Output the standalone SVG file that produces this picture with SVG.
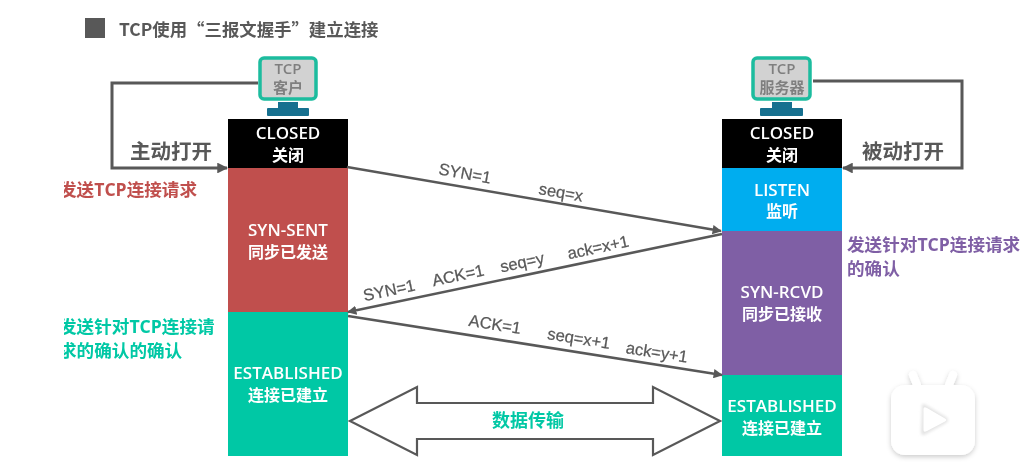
<svg xmlns="http://www.w3.org/2000/svg" width="1031" height="470" viewBox="0 0 1031 470">
<style>
text{font-family:"Open Sans","Noto Sans CJK SC",sans-serif;text-anchor:middle;dominant-baseline:central}
.w{fill:#fff;font-weight:600;font-size:17px}
.wc{fill:#fff;font-weight:600;font-size:16px}
.lab{font-family:"Liberation Sans","Noto Sans CJK SC",sans-serif;fill:#595959;font-size:16.5px;stroke:#595959;stroke-width:.25}
.open{fill:#595959;font-size:20.5px;font-weight:700}
.side{font-size:17.6px;font-weight:700;text-anchor:start}
.mon{fill:#7f7f7f;font-size:15px;font-weight:600}
.line{fill:none;stroke:#595959;stroke-width:3}
.thin{fill:none;stroke:#595959;stroke-width:2.6}
.screen{fill:#d2d2d2;stroke:#1cbc9e;stroke-width:3.5}
.stand{fill:#13708f}
</style>
<defs>
<marker id="a" viewBox="0 0 10 10" refX="9" refY="5" markerWidth="3.6" markerHeight="3.6" orient="auto"><path d="M0 0L10 5L0 10z" fill="#595959"/></marker>
<filter id="soft" x="-5%" y="-5%" width="110%" height="110%"><feGaussianBlur stdDeviation="0.45"/></filter>
<filter id="sh" x="-20%" y="-20%" width="140%" height="140%"><feDropShadow dx="0" dy="2" stdDeviation="2.5" flood-color="#000" flood-opacity=".2"/></filter>
<filter id="sh2" x="-40%" y="-40%" width="180%" height="180%"><feGaussianBlur stdDeviation="1.6"/></filter>
<clipPath id="leftclip"><rect x="64" y="0" width="300" height="470"/></clipPath>
</defs>
<rect width="1031" height="470" fill="#fff"/>
<g filter="url(#soft)">
<g id="title">
<rect x="85" y="18" width="20" height="20" fill="#595959"/>
<text x="119" y="28" style="text-anchor:start;font-size:17.4px;font-weight:700;fill:#595959;font-family:'Noto Sans CJK SC',sans-serif">TCP使用“三报文握手”建立连接</text>
</g>
<g id="client">
<rect x="260" y="58" width="56" height="41" rx="4" class="screen"/>
<rect x="278" y="102" width="20" height="7" class="stand"/>
<rect x="267" y="108" width="42" height="8" rx="1" class="stand"/>
<text x="288" y="68" class="mon">TCP</text>
<text x="288" y="87" class="mon">客户</text>
</g>
<g id="server">
<rect x="753" y="58" width="57" height="41" rx="4" class="screen"/>
<rect x="772" y="102" width="20" height="7" class="stand"/>
<rect x="760" y="108" width="43" height="8" rx="1" class="stand"/>
<text x="782" y="68" class="mon">TCP</text>
<text x="782" y="87" class="mon">服务器</text>
</g>
<g id="client-closed">
<rect x="228" y="119" width="120" height="49" fill="#000"/>
<text x="288" y="132" class="w">CLOSED</text>
<text x="288" y="155" class="wc">关闭</text>
</g>
<g id="client-syn-sent">
<rect x="228" y="168" width="120" height="144" fill="#c0504d"/>
<text x="288" y="229" class="w">SYN-SENT</text>
<text x="288" y="252" class="wc">同步已发送</text>
</g>
<g id="client-established">
<rect x="228" y="312" width="120" height="144" fill="#06c8a5"/>
<text x="288" y="372" class="w">ESTABLISHED</text>
<text x="288" y="395" class="wc">连接已建立</text>
</g>
<g id="server-closed">
<rect x="722" y="119" width="120" height="49" fill="#000"/>
<text x="782" y="132" class="w">CLOSED</text>
<text x="782" y="155" class="wc">关闭</text>
</g>
<g id="server-listen">
<rect x="722" y="168" width="120" height="63" fill="#00adef"/>
<text x="782" y="189" class="w">LISTEN</text>
<text x="782" y="211" class="wc">监听</text>
</g>
<g id="server-syn-rcvd">
<rect x="722" y="231" width="120" height="144" fill="#7f5fa5"/>
<text x="782" y="291" class="w">SYN-RCVD</text>
<text x="782" y="314" class="wc">同步已接收</text>
</g>
<g id="server-established">
<rect x="722" y="375" width="120" height="81" fill="#06c8a5"/>
<text x="782" y="405" class="w">ESTABLISHED</text>
<text x="782" y="428" class="wc">连接已建立</text>
</g>
<g id="connectors">
<path class="line" d="M258 83H112V168H227" marker-end="url(#a)"/>
<path class="line" d="M813 81H962V168H843" marker-end="url(#a)"/>
<path class="thin" d="M347 167L721 231" marker-end="url(#a)"/>
<path class="thin" d="M722 234L348 312" marker-end="url(#a)"/>
<path class="thin" d="M348 316L722 375" marker-end="url(#a)"/>
<path d="M350 421L417 387V403H653V387L720 421L653 455V439H417V455Z" fill="#fff" stroke="#595959" stroke-width="2.2"/>
</g>
<g id="labels">
<text class="open" x="171" y="151">主动打开</text>
<text class="open" x="903" y="151">被动打开</text>
<g clip-path="url(#leftclip)">
<text class="side" x="59" y="189" fill="#c0504d">发送TCP连接请求</text>
<text class="side" x="59" y="326" fill="#06c8a5">发送针对TCP连接请</text>
<text class="side" x="59" y="350" fill="#06c8a5">求的确认的确认</text>
</g>
<text class="side" x="847" y="244" fill="#7f5fa5">发送针对TCP连接请求</text>
<text class="side" x="847" y="268" fill="#7f5fa5">的确认</text>
<text x="528" y="420" style="fill:#06c8a5;font-size:18px;font-weight:700">数据传输</text>
<text class="lab" transform="translate(465 173) rotate(10)">SYN=1</text>
<text class="lab" transform="translate(561 192) rotate(10)">seq=x</text>
<text class="lab" transform="translate(389 290) rotate(-12)">SYN=1</text>
<text class="lab" transform="translate(458 275) rotate(-12)">ACK=1</text>
<text class="lab" transform="translate(522 262) rotate(-12)">seq=y</text>
<text class="lab" transform="translate(598 247) rotate(-12)">ack=x+1</text>
<text class="lab" transform="translate(495 324) rotate(9)">ACK=1</text>
<text class="lab" transform="translate(579 338) rotate(9)">seq=x+1</text>
<text class="lab" transform="translate(657 352) rotate(9)">ack=y+1</text>
</g>
</g>
<g id="logo" filter="url(#sh)">
<path d="M917 385L913 375M949 385L953 375" stroke="#fff" stroke-width="8" stroke-linecap="round"/>
<rect x="891" y="385" width="84" height="70" rx="14" fill="#fff"/>
<path d="M922 407Q921 402 926 405L946 417Q950 420 946 423L926 434Q921 437 921 432Z" fill="#e4e4e4" filter="url(#sh2)"/>
<path d="M923.500 409Q923.500 406 927 408L945 418.500Q947.500 420 945 421.500L927 431Q923.500 433 923.500 430Z" fill="#fff"/>
</g>
</svg>
